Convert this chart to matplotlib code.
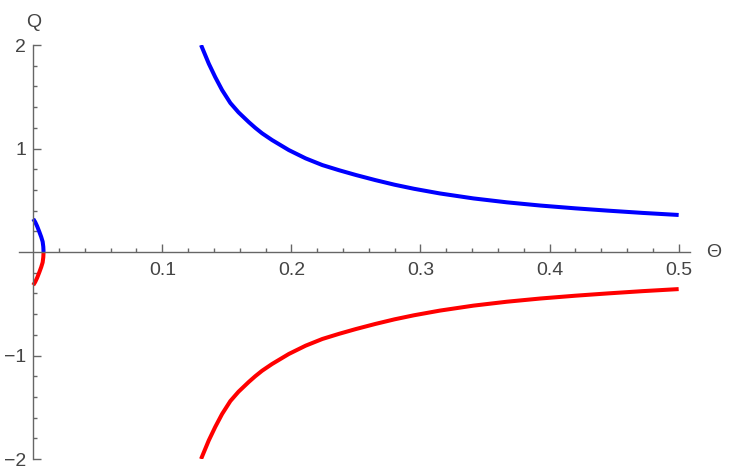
import numpy as np
import matplotlib.pyplot as plt
import matplotlib.ticker as mticker

# values
blue_theta = [0.130, 0.136, 0.141, 0.1463, 0.1527, 0.159, 0.167, 0.172, 0.1773,
              0.185, 0.198, 0.211, 0.224, 0.237, 0.250, 0.265, 0.280, 0.295,
              0.315, 0.341, 0.367, 0.393, 0.420, 0.445, 0.472, 0.500]
blue_q = [2.00, 1.82, 1.69, 1.565, 1.44, 1.35, 1.255, 1.20, 1.147,
          1.082, 0.985, 0.905, 0.84, 0.79, 0.744, 0.695, 0.650, 0.611,
          0.566, 0.518, 0.480, 0.449, 0.422, 0.400, 0.378, 0.358]
red_theta = blue_theta
red_q = [-2.00, -1.82, -1.69, -1.565, -1.44, -1.35, -1.255, -1.20, -1.147,
         -1.082, -0.985, -0.905, -0.84, -0.79, -0.744, -0.695, -0.650, -0.611,
         -0.566, -0.518, -0.480, -0.449, -0.422, -0.400, -0.378, -0.358]

# small arc near the origin
arc_blue_theta = [0.0, 0.0015, 0.0030, 0.0047, 0.0062, 0.0073, 0.0078, 0.0080]
arc_blue_q = [0.32, 0.29, 0.25, 0.196, 0.145, 0.10, 0.05, 0.0]
arc_red_theta = [0.0080, 0.0078, 0.0073, 0.0062, 0.0047, 0.0030, 0.0015, 0.0]
arc_red_q = [0.0, -0.05, -0.10, -0.145, -0.196, -0.25, -0.29, -0.32]

x_major = [0.1, 0.2, 0.3, 0.4, 0.5]
y_major = [-2, -1, 1, 2]

axis_col = '#666666'
text_col = '#444444'

plt.rcParams['font.family'] = ['Liberation Sans', 'DejaVu Sans']

fig = plt.figure(figsize=(7.32, 4.74), dpi=100)
ax = fig.add_axes([0.026, 0.0316, 0.917, 0.8734])

for th, q, c in [(blue_theta, blue_q, '#0000ff'), (red_theta, red_q, '#ff0000'),
                 (arc_blue_theta, arc_blue_q, '#0000ff'),
                 (arc_red_theta, arc_red_q, '#ff0000')]:
    ax.plot(th, q, color=c, lw=2.9, solid_capstyle='butt', solid_joinstyle='round')

ax.set_xlim(-0.011, 0.509)
ax.set_ylim(-2, 2)

for s in ['top', 'right']:
    ax.spines[s].set_visible(False)
ax.spines['left'].set_position(('data', 0))
ax.spines['bottom'].set_position(('data', 0))
for s in ['left', 'bottom']:
    ax.spines[s].set_color(axis_col)
    ax.spines[s].set_linewidth(1.0)
ax.spines['left'].set_bounds(-2, 2)

ax.xaxis.set_major_locator(mticker.FixedLocator(x_major))
ax.xaxis.set_minor_locator(mticker.FixedLocator(
    [round(v, 2) for v in np.arange(0.02, 0.5, 0.02) if round(v * 10, 4) % 1 != 0]))
ax.yaxis.set_major_locator(mticker.FixedLocator(y_major))
ax.yaxis.set_minor_locator(mticker.FixedLocator(
    [round(v, 1) for v in np.arange(-1.8, 2.0, 0.2) if abs(round(v, 1) - round(v)) > 0.01]))
ax.xaxis.set_major_formatter(mticker.FixedFormatter([str(v) for v in x_major]))
ax.yaxis.set_major_formatter(mticker.FixedFormatter(['\u22122', '\u22121', '1', '2']))

ax.tick_params(which='both', direction='in', color=axis_col, width=1.0,
               labelcolor=text_col, labelsize=14)
ax.tick_params(which='major', length=5.8)
ax.tick_params(which='minor', length=3.0)
ax.tick_params(axis='x', pad=7.5)
ax.tick_params(axis='y', pad=5)

ax.text(0.0, 2.22, 'Q', ha='center', va='center', fontsize=14, color=text_col)
ax.text(0.521, 0.0, '\u0398', ha='left', va='center', fontsize=14, color=text_col,
        clip_on=False)

fig.savefig('out.png', dpi=100)
